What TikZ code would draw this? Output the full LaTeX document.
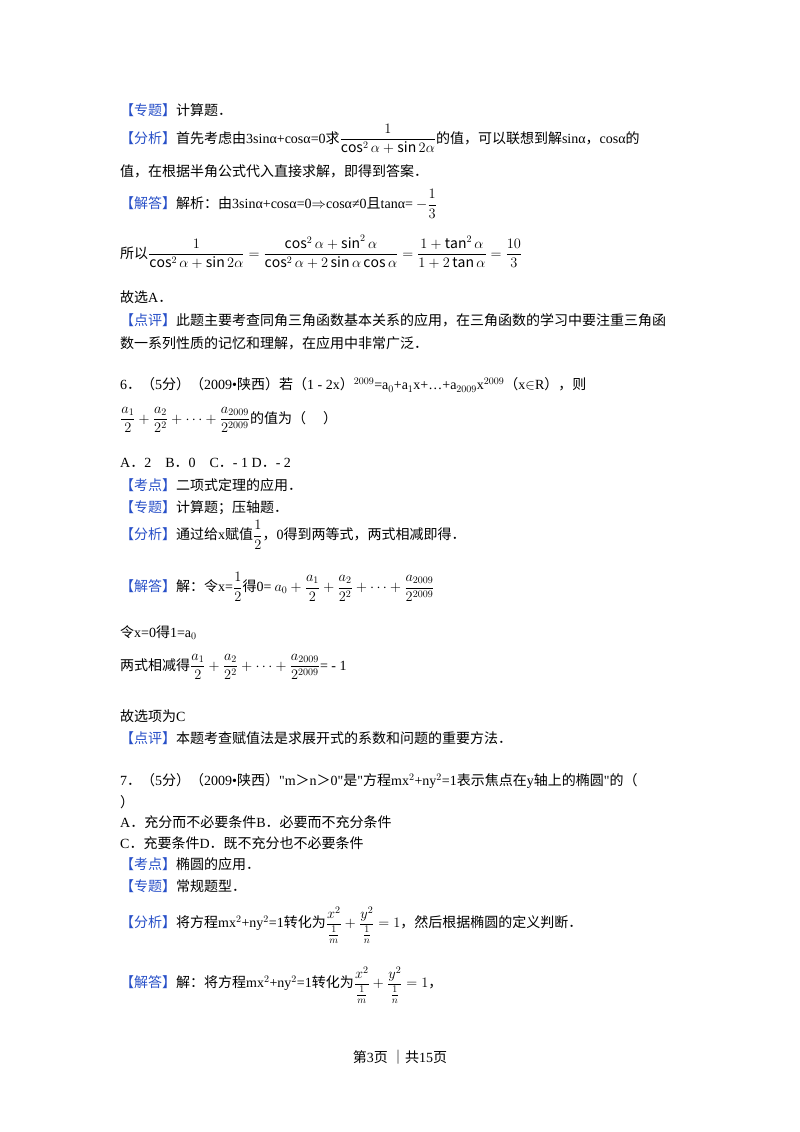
\documentclass[tikz,border=0pt]{standalone}
\usepackage{amsmath}
\usepackage{fontspec}
\setmainfont{Noto Sans CJK SC}
\newfontfamily\lat{Liberation Serif}
\definecolor{tagblue}{RGB}{40,80,200}
\newcommand{\tg}[1]{\textcolor{tagblue}{【#1】}}
\newcommand{\mL}[1]{{\lat #1}}
\begin{document}
\begin{tikzpicture}[x=1pt,y=1pt,every node/.style={anchor=west,inner sep=0pt,font=\fontsize{14}{17}\selectfont}]
\useasboundingbox (0,0) rectangle (800,-1132);
\fill[white] (0,0) rectangle (800,-1132);
\def\X{120}
\node (l1) at (\X,-110) {\tg{专题}计算题．};
\node (l2) at (\X,-139) {\tg{分析}首先考虑由\mL{3sinα+cosα=0}求$\displaystyle\frac{1}{\cos^2\alpha+\sin2\alpha}$的值，可以联想到解\mL{sinα}，\mL{cosα}的};
\node (l3) at (\X,-171) {值，在根据半角公式代入直接求解，即得到答案．};
\node (l4) at (\X,-204) {\tg{解答}解析：由\mL{3sinα+cosα=0}$\Rightarrow$\mL{cosα≠0}且\mL{tanα=} $-\dfrac{1}{3}$};
\node (l5) at (\X,-252) {所以$\displaystyle\frac{1}{\cos^2\alpha+\sin2\alpha}=\frac{\cos^2\alpha+\sin^2\alpha}{\cos^2\alpha+2\sin\alpha\cos\alpha}=\frac{1+\tan^2\alpha}{1+2\tan\alpha}=\frac{10}{3}$};
\node (l6) at (\X,-297) {故选\mL{A}．};
\node (l7) at (\X,-320) {\tg{点评}此题主要考查同角三角函数基本关系的应用，在三角函数的学习中要注重三角函};
\node (l8) at (\X,-343) {数一系列性质的记忆和理解，在应用中非常广泛．};
\node (l9) at (\X,-385) {\mL{6}．（\mL{5}分）（\mL{2009•}陕西）若（\mL{1 - 2x}）\mL{$^{2009}$=a$_0$+a$_1$x+…+a$_{2009}$x$^{2009}$}（\mL{x}$\in$\mL{R}），则};
\node (l10) at (\X,-420) {$\displaystyle\frac{a_1}{2}+\frac{a_2}{2^2}+\cdots+\frac{a_{2009}}{2^{2009}}$的值为（\quad\ ）};
\node (l11) at (\X,-463) {\mL{A}．\mL{2\quad B}．\mL{0\quad C}．\mL{- 1 D}．\mL{- 2}};
\node (l12) at (\X,-485) {\tg{考点}二项式定理的应用．};
\node (l13) at (\X,-508) {\tg{专题}计算题；压轴题．};
\node (l14) at (\X,-535) {\tg{分析}通过给\mL{x}赋值$\dfrac{1}{2}$，\mL{0}得到两等式，两式相减即得．};
\node (l15) at (\X,-587) {\tg{解答}解：令\mL{x=}$\dfrac{1}{2}$得\mL{0=} $\displaystyle a_0+\frac{a_1}{2}+\frac{a_2}{2^2}+\cdots+\frac{a_{2009}}{2^{2009}}$};
\node (l16) at (\X,-633) {令\mL{x=0}得\mL{1=a$_0$}};
\node (l17) at (\X,-667) {两式相减得$\displaystyle\frac{a_1}{2}+\frac{a_2}{2^2}+\cdots+\frac{a_{2009}}{2^{2009}}$\mL{= - 1}};
\node (l18) at (\X,-716) {故选项为\mL{C}};
\node (l19) at (\X,-738) {\tg{点评}本题考查赋值法是求展开式的系数和问题的重要方法．};
\node (l20) at (\X,-781) {\mL{7}．（\mL{5}分）（\mL{2009•}陕西）\mL{"m}＞\mL{n}＞\mL{0"}是\mL{"}方程\mL{mx$^2$+ny$^2$=1}表示焦点在\mL{y}轴上的椭圆\mL{"}的（};
\node (l21) at (\X,-802) {）};
\node (l22) at (\X,-822) {\mL{A}．充分而不必要条件\mL{B}．必要而不充分条件};
\node (l23) at (\X,-843) {\mL{C}．充要条件\mL{D}．既不充分也不必要条件};
\node (l24) at (\X,-864) {\tg{考点}椭圆的应用．};
\node (l25) at (\X,-886) {\tg{专题}常规题型．};
\node (l26) at (\X,-925) {\tg{分析}将方程\mL{mx$^2$+ny$^2$=1}转化为$\displaystyle\frac{x^2}{\frac{1}{m}}+\frac{y^2}{\frac{1}{n}}=1$，然后根据椭圆的定义判断．};
\node (l27) at (\X,-985) {\tg{解答}解：将方程\mL{mx$^2$+ny$^2$=1}转化为$\displaystyle\frac{x^2}{\frac{1}{m}}+\frac{y^2}{\frac{1}{n}}=1$，};
\node[anchor=center] (ft) at (400,-1057) {第\mL{3}页 ｜共\mL{15}页};
\end{tikzpicture}
\end{document}
